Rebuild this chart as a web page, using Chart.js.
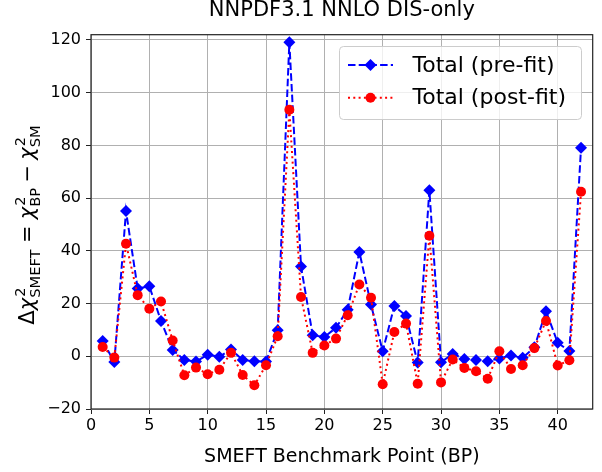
<!DOCTYPE html>
<html>
<head>
<meta charset="utf-8">
<script src="https://cdn.jsdelivr.net/npm/chart.js@4"></script>
<style>
  html, body { margin: 0; padding: 0; background: #fff; }
  canvas { display: block; }
</style>
</head>
<body>
<canvas id="chiChart" width="602" height="472"></canvas>
<script>
// benchmark points 1..42
const benchmarkPoints = Array.from({ length: 42 }, (_, i) => i + 1);

// Δχ² pre-fit (blue diamonds)
const preFit = [
  5.8, -2.2, 55.1, 25.7, 26.6, 13.4, 2.4, -1.4, -2.0, 0.6,
  -0.2, 2.6, -1.4, -1.9, -2.0, 9.9, 119.1, 34.1, 8.0, 7.3,
  10.8, 17.7, 39.6, 19.6, 1.9, 19.1, 15.3, -2.4, 63.0, -2.3,
  0.9, -1.0, -1.4, -1.9, -0.8, 0.3, -0.6, 3.4, 17.1, 5.1,
  2.0, 79.1,
];

// Δχ² post-fit (red circles)
const postFit = [
  3.5, -0.5, 42.7, 23.2, 18.0, 20.8, 6.0, -7.2, -4.3, -6.8,
  -5.1, 1.3, -7.1, -11.0, -3.4, 7.6, 93.5, 22.5, 1.3, 4.1,
  6.7, 15.6, 27.2, 22.2, -10.6, 9.2, 12.4, -10.4, 45.7, -9.9,
  -1.2, -4.4, -5.7, -8.5, 1.9, -4.8, -3.4, 3.1, 13.4, -3.5,
  -1.5, 62.4,
];

const xTicks = [0, 5, 10, 15, 20, 25, 30, 35, 40];
const yTicks = [-20, 0, 20, 40, 60, 80, 100, 120];

const FONT = "'DejaVu Sans', sans-serif";
const BLUE = "#0000ff";
const RED = "#ff0000";
const DASH_PRE = [7.5, 3.2];
const DASH_POST = [2, 3.3];

// frame, y-axis math label and legend drawn on the canvas
const extrasPlugin = {
  id: "extras",
  afterDraw(chart) {
    const ctx = chart.ctx;
    const a = chart.chartArea;

    // 4-sided frame (matplotlib spines)
    ctx.save();
    ctx.strokeStyle = "#222";
    ctx.lineWidth = 1.2;
    ctx.strokeRect(a.left, a.top, a.right - a.left, a.bottom - a.top);
    ctx.restore();

    // y label: Δχ²_SMEFT = χ²_BP − χ²_SM
    const main = 21, small = 14.7;
    const parts = [
      { t: "Δ", f: `${main}px ${FONT}` },
      { t: "χ", f: `italic ${main}px ${FONT}`, sup: "2", sub: "SMEFT" },
      { t: "=", f: `${main}px ${FONT}`, pad: 0.3 * main },
      { t: "χ", f: `italic ${main}px ${FONT}`, sup: "2", sub: "BP" },
      { t: "−", f: `${main}px ${FONT}`, pad: 0.25 * main },
      { t: "χ", f: `italic ${main}px ${FONT}`, sup: "2", sub: "SM" },
    ];
    const sFont = `${small}px ${FONT}`;
    let total = 0;
    parts.forEach((p) => {
      ctx.font = p.f;
      p.w = ctx.measureText(p.t).width;
      p.sw = 0;
      if (p.sup) {
        ctx.font = sFont;
        p.sw = Math.max(ctx.measureText(p.sup).width, ctx.measureText(p.sub).width);
      }
      total += (p.pad || 0) * 2 + p.w + p.sw;
    });
    ctx.save();
    ctx.translate(33.5, 225);
    ctx.rotate(-Math.PI / 2);
    ctx.fillStyle = "#000";
    ctx.textBaseline = "alphabetic";
    ctx.textAlign = "left";
    let x = -total / 2;
    parts.forEach((p) => {
      x += p.pad || 0;
      ctx.font = p.f;
      ctx.fillText(p.t, x, 0);
      x += p.w;
      if (p.sup) {
        ctx.font = sFont;
        ctx.fillText(p.sup, x + 1, -8.5);
        ctx.fillText(p.sub, x, 6.5);
        x += p.sw;
      }
      x += p.pad || 0;
    });
    ctx.restore();

    // legend
    const bx = a.right - 11.7 - 242, by = a.top + 11.3, bw = 242, bh = 73;
    ctx.save();
    ctx.fillStyle = "rgba(255,255,255,0.8)";
    ctx.strokeStyle = "#cccccc";
    ctx.lineWidth = 1;
    ctx.beginPath();
    ctx.roundRect(bx + 0.5, by + 0.5, bw, bh, 4);
    ctx.fill();
    ctx.stroke();
    const rows = [
      { label: "Total (pre-fit)", color: BLUE, dash: DASH_PRE, style: "rectRot", r: 6 },
      { label: "Total (post-fit)", color: RED, dash: DASH_POST, style: "circle", r: 5 },
    ];
    rows.forEach((row, i) => {
      const cy = by + 19 + i * 32.7;
      ctx.strokeStyle = row.color;
      ctx.lineWidth = 2;
      ctx.setLineDash(row.dash);
      ctx.beginPath();
      ctx.moveTo(bx + 9, cy);
      ctx.lineTo(bx + 54, cy);
      ctx.stroke();
      ctx.setLineDash([]);
      ctx.fillStyle = row.color;
      Chart.helpers.drawPoint(ctx, { pointStyle: row.style, radius: row.r, borderWidth: 0 }, bx + 31.5, cy);
      ctx.fillStyle = "#000";
      ctx.font = `22px ${FONT}`;
      ctx.textBaseline = "middle";
      ctx.textAlign = "left";
      ctx.fillText(row.label, bx + 73.5, cy + 1);
    });
    ctx.restore();
  },
};

const pts = (vals) => benchmarkPoints.map((bp, i) => ({ x: bp, y: vals[i] }));

new Chart(document.getElementById("chiChart"), {
  type: "line",
  data: {
    datasets: [
      {
        label: "Total (pre-fit)",
        data: pts(preFit),
        borderColor: BLUE,
        backgroundColor: BLUE,
        borderWidth: 2,
        borderDash: DASH_PRE,
        pointStyle: "rectRot",
        pointRadius: 6,
        pointBorderWidth: 0,
        tension: 0,
        order: 2,
      },
      {
        label: "Total (post-fit)",
        data: pts(postFit),
        borderColor: RED,
        backgroundColor: RED,
        borderWidth: 2,
        borderDash: DASH_POST,
        pointStyle: "circle",
        pointRadius: 5,
        pointBorderWidth: 0,
        tension: 0,
        order: 1,
      },
    ],
  },
  options: {
    responsive: false,
    animation: false,
    layout: { padding: { left: 0, right: 9.3, top: 0, bottom: 0 } },
    plugins: {
      legend: { display: false },
      tooltip: { enabled: false },
      title: {
        display: true,
        fullSize: false,
        text: "NNPDF3.1 NNLO DIS-only",
        color: "#000",
        font: { family: FONT, size: 21, weight: "normal", lineHeight: 1 },
        padding: { top: 0, bottom: 13.7 },
      },
    },
    scales: {
      x: {
        type: "linear",
        min: 0,
        max: 43,
        afterFit: (s) => { s.height = 63; },
        afterBuildTicks: (s) => { s.ticks = xTicks.map((v) => ({ value: v })); },
        ticks: { color: "#000", font: { family: FONT, size: 16 }, padding: 2, maxRotation: 0 },
        grid: { color: "#b0b0b0", lineWidth: 1, tickColor: "#222", tickLength: 5 },
        border: { display: false },
        title: {
          display: true,
          text: "SMEFT Benchmark Point (BP)",
          color: "#000",
          font: { family: FONT, size: 19 },
          padding: { top: 0, bottom: 4 },
        },
      },
      y: {
        type: "linear",
        min: -20,
        max: 122,
        afterFit: (s) => { s.width = 91; },
        afterBuildTicks: (s) => { s.ticks = yTicks.map((v) => ({ value: v })); },
        ticks: {
          color: "#000",
          font: { family: FONT, size: 16 },
          padding: 5,
          callback: (v) => (v < 0 ? "\u2212" + Math.abs(v) : String(v)),
        },
        grid: { color: "#b0b0b0", lineWidth: 1, tickColor: "#222", tickLength: 5 },
        border: { display: false },
      },
    },
  },
  plugins: [extrasPlugin],
});
</script>
</body>
</html>
